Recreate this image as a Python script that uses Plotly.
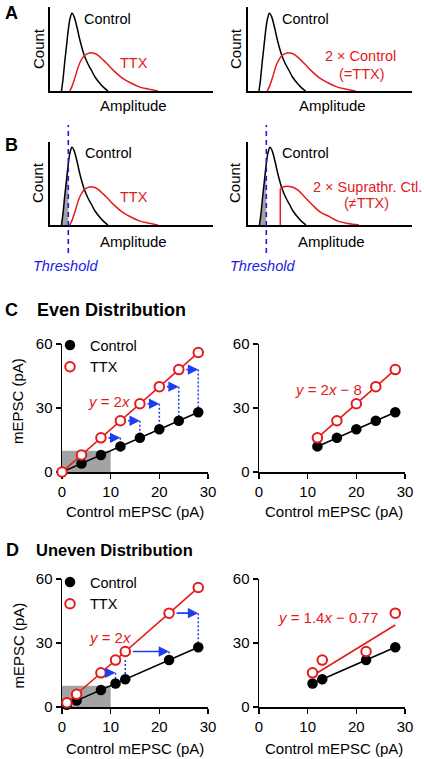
import plotly.graph_objects as go

W, H = 425, 759
FONT = "Liberation Sans, Arial, sans-serif"
RED = "#E41A1C"
BLUE = "#1A1AE6"
ARROW = "#1E3CF0"
GRAY = "#A3A3A3"

# ---------------- data: schematic distributions (amplitude, count rel. to control peak)
ctrl_amp = [11.5, 13, 14.7, 16.5, 18.3, 20, 22, 24, 27, 30, 34, 37.5, 41.3, 45, 51.3, 55, 58]
ctrl_cnt = [0, 0.15, 0.37, 0.58, 0.79, 0.93, 1.0, 0.96, 0.82, 0.65, 0.47, 0.36, 0.27, 0.18, 0.077, 0.03, 0]
ttx_amp = [19.7, 22, 24.7, 29.7, 34.7, 39.7, 44, 48, 56.3, 64.7, 72, 81.3, 90, 98, 108]
ttx_cnt = [0, 0.06, 0.16, 0.36, 0.46, 0.49, 0.485, 0.46, 0.36, 0.25, 0.17, 0.10, 0.05, 0.026, 0]
supra_amp = [32.3, 32.3, 35, 39, 44, 50, 56, 65, 72, 81, 90, 100, 111]
supra_cnt = [0, 0.47, 0.49, 0.5, 0.49, 0.45, 0.37, 0.25, 0.17, 0.11, 0.05, 0.02, 0]
threshold = 18.3

# ---------------- data: C even distribution
c_ctrl_x = [0, 4, 8, 12, 16, 20, 24, 28]
c_ctrl_y = [0, 4, 8, 12, 16, 20, 24, 28]
c_ttx_y = [0, 8, 16, 24, 32, 40, 48, 56]
c_right_x = [12, 16, 20, 24, 28]
c_right_ctrl = [12, 16, 20, 24, 28]
c_right_ttx = [16, 24, 32, 40, 48]

# ---------------- data: D uneven distribution
d_ctrl_x = [1, 3, 8, 11, 13, 22, 28]
d_ctrl_y = [1, 3, 8, 11, 13, 22, 28]
d_ttx_y = [2, 6, 16, 22, 26, 44, 56]
d_right_x = [11, 13, 22, 28]
d_right_ctrl = [11, 13, 22, 28]
d_right_ttx = [16, 22, 26, 44]
d_fit = (1.4, -0.77)

zoom_box = [0, 10]
x_ticks = [0, 10, 20, 30]
y_ticks = [0, 30, 60]


def px(x):
    return x / W


def py(y):
    return 1 - y / H


def xk(n):
    return "xaxis" if n == 1 else f"xaxis{n}"


def yk(n):
    return "yaxis" if n == 1 else f"yaxis{n}"


def xr(n):
    return "x" if n == 1 else f"x{n}"


def yr(n):
    return "y" if n == 1 else f"y{n}"


fig = go.Figure()
layout = dict(
    template="none",
    width=W, height=H, autosize=False,
    margin=dict(l=0, r=0, t=0, b=0, pad=0),
    paper_bgcolor="white", plot_bgcolor="rgba(0,0,0,0)",
    font=dict(family=FONT, size=15, color="black"),
    showlegend=True,
)

# distribution panel axes: (n, x0, x1, ytop, ybot, xmax)
dist_panels = [
    (1, 50, 213, 7, 91, 163),
    (2, 247.5, 412, 7, 91, 164.5),
    (3, 50, 213, 142, 225, 163),
    (4, 248, 412, 142, 225, 164),
]
for n, x0, x1, yt, yb, xmax in dist_panels:
    common = dict(showline=True, linecolor="black", linewidth=1.6, ticks="",
                  showticklabels=False, showgrid=False, zeroline=False, fixedrange=True,
                  automargin=False)
    layout[xk(n)] = dict(domain=[px(x0), px(x1)], anchor=yr(n), range=[0, xmax], **common)
    layout[yk(n)] = dict(domain=[py(yb), py(yt)], anchor=xr(n), range=[0, (yb - yt) / 77.7], **common)

sc_panels = [
    (5, 62, 208, 344, 472),
    (6, 259, 405, 344, 472),
    (7, 62, 208, 579, 707),
    (8, 259, 405, 579, 707),
]
for n, x0, x1, yt, yb in sc_panels:
    common = dict(showline=True, linecolor="black", linewidth=1.5, ticks="outside", ticklen=5,
                  tickwidth=1.5, tickcolor="black", tickfont=dict(size=15, color="black"),
                  showgrid=False, zeroline=False, layer="below traces", fixedrange=True,
                  automargin=False)
    layout[xk(n)] = dict(domain=[px(x0), px(x1)], anchor=yr(n), range=[0, 30],
                         tickvals=x_ticks, **common)
    layout[yk(n)] = dict(domain=[py(yb), py(yt)], anchor=xr(n), range=[0, 60],
                         tickvals=y_ticks, **common)

# ---------------- distribution curves
def curve(n, xs, ys, color, shape="spline", width=1.5):
    fig.add_trace(go.Scatter(x=xs, y=ys, mode="lines", line=dict(color=color, width=width, shape=shape),
                             xaxis=xr(n), yaxis=yr(n), showlegend=False, hoverinfo="skip"))

# gray fill below threshold (B panels)
fx = [a for a in ctrl_amp if a <= threshold]
fy = [c for a, c in zip(ctrl_amp, ctrl_cnt) if a <= threshold]
for n in (3, 4):
    fig.add_trace(go.Scatter(x=fx, y=fy, mode="lines", fill="tozeroy", fillcolor=GRAY,
                             line=dict(width=0, shape="spline"), xaxis=xr(n), yaxis=yr(n),
                             showlegend=False, hoverinfo="skip"))

for n in (1, 2, 3, 4):
    curve(n, ctrl_amp, ctrl_cnt, "black")
for n in (1, 2, 3):
    curve(n, ttx_amp, ttx_cnt, RED)
curve(4, supra_amp[:2], supra_cnt[:2], RED, shape="linear")
curve(4, supra_amp[1:], supra_cnt[1:], RED)

shapes = []
for n in (3, 4):
    shapes.append(dict(type="line", xref=xr(n), yref="paper", x0=threshold, x1=threshold,
                       y0=py(253), y1=py(125), line=dict(color=BLUE, width=1.6, dash="5px,4px")))

# ---------------- scatter panels
for n in (5, 7):
    shapes.append(dict(type="rect", xref=xr(n), yref=yr(n), x0=zoom_box[0], x1=zoom_box[1],
                       y0=zoom_box[0], y1=zoom_box[1], fillcolor=GRAY, line=dict(width=0), layer="below"))

annotations = []


def shifts(n, left_x, right_x, right_ctrl, right_ttx):
    for rx, cy, ty in zip(right_x, right_ctrl, right_ttx):
        src = left_x[left_x.index(rx) - 1]
        fig.add_trace(go.Scatter(x=[rx, rx], y=[ty, cy], mode="lines",
                                 line=dict(color=ARROW, width=1.5, dash="2px,2px"),
                                 xaxis=xr(n), yaxis=yr(n), showlegend=False, hoverinfo="skip"))
        annotations.append(dict(x=rx, y=ty, ax=src, ay=ty, xref=xr(n), yref=yr(n),
                                axref=xr(n), ayref=yr(n), text="", showarrow=True,
                                arrowhead=2, arrowsize=1.3, arrowwidth=1.6, arrowcolor=ARROW,
                                startstandoff=6, standoff=0))


shifts(5, c_ctrl_x, c_right_x, c_right_ctrl, c_right_ttx)
shifts(7, d_ctrl_x, d_right_x, d_right_ctrl, d_right_ttx)

MS = 10.5


def ctrl_trace(n, xs, ys, mode="lines+markers"):
    fig.add_trace(go.Scatter(x=xs, y=ys, mode=mode, line=dict(color="black", width=1.6),
                             marker=dict(color="black", size=MS, line=dict(width=0)),
                             xaxis=xr(n), yaxis=yr(n), showlegend=False, cliponaxis=False,
                             hoverinfo="skip"))


def ttx_trace(n, xs, ys, mode="lines+markers"):
    fig.add_trace(go.Scatter(x=xs, y=ys, mode=mode, line=dict(color=RED, width=1.6),
                             marker=dict(color="white", size=MS - 1, line=dict(color=RED, width=2)),
                             xaxis=xr(n), yaxis=yr(n), showlegend=False, cliponaxis=False,
                             hoverinfo="skip"))


ctrl_trace(5, c_ctrl_x, c_ctrl_y)
ttx_trace(5, c_ctrl_x, c_ttx_y)
ctrl_trace(6, c_right_x, c_right_ctrl)
ttx_trace(6, c_right_x, c_right_ttx)

ctrl_trace(7, d_ctrl_x, d_ctrl_y)
ttx_trace(7, d_ctrl_x, d_ttx_y)
ctrl_trace(8, d_right_x, d_right_ctrl)
fit_x = [min(d_right_x), max(d_right_x)]
fig.add_trace(go.Scatter(x=fit_x, y=[d_fit[0] * v + d_fit[1] for v in fit_x], mode="lines",
                         line=dict(color=RED, width=1.6), xaxis="x8", yaxis="y8",
                         showlegend=False, hoverinfo="skip"))
ttx_trace(8, d_right_x, d_right_ttx, mode="markers")

# legend entries
for n, lg in ((5, "legend"), (7, "legend2")):
    fig.add_trace(go.Scatter(x=[None], y=[None], mode="markers", name="Control",
                             marker=dict(color="black", size=MS), xaxis=xr(n), yaxis=yr(n),
                             legend=lg, showlegend=True))
    fig.add_trace(go.Scatter(x=[None], y=[None], mode="markers", name="TTX",
                             marker=dict(color="white", size=MS - 1, line=dict(color=RED, width=2)),
                             xaxis=xr(n), yaxis=yr(n), legend=lg, showlegend=True))

leg_common = dict(xanchor="left", yanchor="top", bgcolor="rgba(0,0,0,0)", borderwidth=0,
                  font=dict(size=14.5, color="black"), itemwidth=30, tracegroupgap=0,
                  traceorder="normal")
layout["legend"] = dict(x=px(50), y=py(329), **leg_common)
layout["legend2"] = dict(x=px(50), y=py(566), **leg_common)


def ann(text, x, y, size=15, color="black", angle=0, bold=False, italic=False, xanchor="center"):
    if bold:
        text = f"<b>{text}</b>"
    if italic:
        text = f"<i>{text}</i>"
    annotations.append(dict(text=text, x=px(x), y=py(y), xref="paper", yref="paper",
                            xanchor=xanchor, yanchor="middle", showarrow=False,
                            textangle=angle, font=dict(size=size, color=color, family=FONT)))


# panel letters and titles
ann("A", 11, 13, size=18, bold=True)
ann("B", 11, 145, size=18, bold=True)
ann("C", 11.5, 310, size=18, bold=True)
ann("Even Distribution", 111, 310, size=18, bold=True)
ann("D", 12, 550, size=18, bold=True)
ann("Uneven Distribution", 34, 550, size=16.5, bold=True, xanchor="left")

# panel A
ann("Control", 108, 18.5, size=14.5)
ann("TTX", 134, 62.5, size=14.5, color=RED)
ann("Amplitude", 133, 106, size=15)
ann("Count", 38, 49, size=15, angle=-90)
ann("Control", 305.5, 18.5, size=14.5)
ann("2 × Control", 360, 55.5, size=14.5, color=RED)
ann("(=TTX)", 362, 74, size=14.5, color=RED)
ann("Amplitude", 332, 106, size=15)
ann("Count", 235, 49, size=15, angle=-90)

# panel B
ann("Control", 108.5, 153, size=14.5)
ann("TTX", 133.5, 197, size=14.5, color=RED)
ann("Amplitude", 133.5, 241, size=15)
ann("Threshold", 65.5, 266, size=14.5, color=BLUE, italic=True)
ann("Count", 38, 183, size=15, angle=-90)
ann("Control", 305.5, 153, size=14.5)
ann("2 × Suprathr. Ctl.", 367, 187, size=14.5, color=RED)
ann("(≠TTX)", 366.5, 202.5, size=14.5, color=RED)
ann("Amplitude", 331.5, 241, size=15)
ann("Threshold", 262, 266, size=14.5, color=BLUE, italic=True)
ann("Count", 235, 183, size=15, angle=-90)

# panel C
ann("<i>y</i> = 2<i>x</i>", 109, 401, size=15, color=RED)
ann("mEPSC (pA)", 17.5, 401.5, size=15, angle=-90)
ann("Control mEPSC (pA)", 135, 511.5, size=15)
ann("<i>y</i> = 2<i>x</i> − 8", 328.5, 389, size=15, color=RED)
ann("Control mEPSC (pA)", 333.5, 511.5, size=15)

# panel D
ann("<i>y</i> = 2<i>x</i>", 110, 637, size=15, color=RED)
ann("mEPSC (pA)", 17.5, 646, size=15, angle=-90)
ann("Control mEPSC (pA)", 135, 748.5, size=15)
ann("<i>y</i> = 1.4<i>x</i> − 0.77", 328, 617.5, size=15, color=RED)
ann("Control mEPSC (pA)", 333.5, 748.5, size=15)

layout["shapes"] = shapes
layout["annotations"] = annotations
fig.update_layout(**layout)
fig.write_html("out.html", config={"displayModeBar": False, "staticPlot": True},
               post_script="document.body.style.margin='0px';document.body.style.padding='0px';"
                           "document.body.style.overflow='hidden';")
